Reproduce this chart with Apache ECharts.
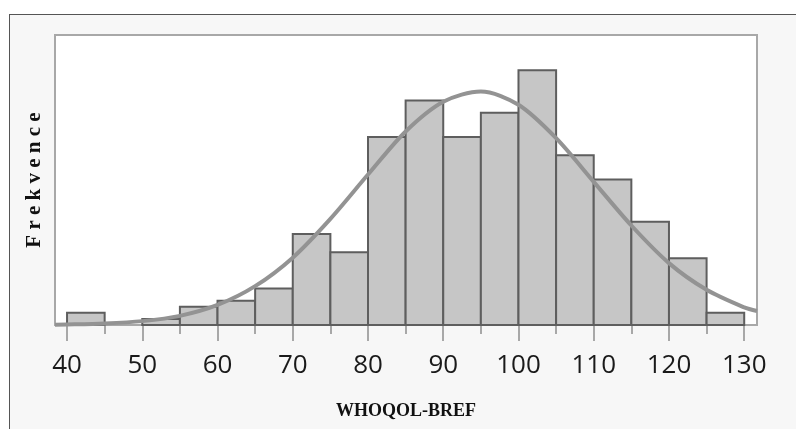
<!DOCTYPE html>
<html>
<head>
<meta charset="utf-8">
<script src="https://cdn.jsdelivr.net/npm/echarts@6/dist/echarts.min.js"></script>
<style>
  body { margin: 0; background: #ffffff; }
  #wrap { position: relative; width: 796px; height: 429px; }
  #frame { position: absolute; left: 9px; top: 14px; right: 0; bottom: 0;
           background: #f7f7f7; border-left: 1px solid #555; border-top: 1px solid #555; }
  #main { position: absolute; left: 0; top: 0; width: 796px; height: 429px; }
</style>
</head>
<body>
<div id="wrap">
  <div id="frame"></div>
  <div id="main"></div>
</div>
<script>
// histogram bins (width 5) and counts
var binStart = [40, 45, 50, 55, 60, 65, 70, 75, 80, 85, 90, 95, 100, 105, 110, 115, 120, 125]
var binWidth = 5
var counts = [2, 0, 1, 3, 4, 6, 15, 12, 31, 37, 31, 35, 42, 28, 24, 17, 11, 2]
// normal curve
var curveX = [38.4, 40, 45, 50, 55, 60, 65, 70, 75, 80, 85, 90, 95, 100, 105, 110, 115, 120, 125, 130, 131.7]
var curveY = [0.06, 0.08, 0.25, 0.64, 1.5, 3.3, 6.4, 11.1, 17.5, 24.8, 31.9, 36.8, 38.5, 36.3, 30.8, 23.6, 16.4, 10.2, 5.8, 2.9, 2.3]
// tick labels
var majorTicks = [40, 50, 60, 70, 80, 90, 100, 110, 120, 130]
var minorTicks = [45, 55, 65, 75, 85, 95, 105, 115, 125]

var xMin = 38.4
var xMax = 131.7

var barData = []
for (var i = 0; i < binStart.length; i++) {
    barData.push([binStart[i], binStart[i] + binWidth, counts[i]])
}
var lineData = []
for (var j = 0; j < curveX.length; j++) {
    lineData.push([curveX[j], curveY[j]])
}

var myChart = echarts.init(document.getElementById('main'))

var tickColor = '#a8a8a8'

var option = {
    animation: false,
    backgroundColor: 'transparent',
    grid: {
        left: 55,
        right: 39,
        top: 35,
        bottom: 104,
        show: true,
        backgroundColor: '#ffffff',
        borderColor: '#a8a8a8',
        borderWidth: 2
    },
    xAxis: [
        {
            type: 'value',
            min: xMin,
            max: xMax,
            position: 'bottom',
            axisLine: { show: false },
            splitLine: { show: false },
            axisTick: {
                show: true,
                customValues: majorTicks,
                length: 16,
                lineStyle: { color: tickColor, width: 2 }
            },
            axisLabel: {
                customValues: majorTicks,
                margin: 28,
                color: '#1a1a1a',
                fontSize: 26,
                fontFamily: 'Open Sans'
            },
            name: 'WHOQOL-BREF',
            nameLocation: 'middle',
            nameGap: 77,
            nameTextStyle: {
                fontFamily: 'Liberation Serif',
                fontWeight: 'bold',
                fontSize: 18,
                color: '#111'
            }
        },
        {
            type: 'value',
            min: xMin,
            max: xMax,
            position: 'bottom',
            axisLine: { show: false },
            splitLine: { show: false },
            axisTick: {
                show: true,
                customValues: minorTicks,
                length: 9,
                lineStyle: { color: tickColor, width: 2 }
            },
            axisLabel: { show: false }
        }
    ],
    yAxis: {
        type: 'value',
        min: 0,
        max: 47.8,
        axisLine: { show: false },
        axisTick: { show: false },
        axisLabel: { show: false },
        splitLine: { show: false },
        name: 'F r e k v e n c e',
        nameLocation: 'middle',
        nameRotate: 90,
        nameGap: 10,
        nameTextStyle: {
            fontFamily: 'Liberation Serif',
            fontWeight: 'bold',
            fontSize: 21,
            color: '#111'
        }
    },
    series: [
        {
            type: 'custom',
            xAxisIndex: 0,
            data: barData,
            renderItem: function (params, api) {
                var c = api.value(2)
                if (!c) return null
                var p0 = api.coord([api.value(0), c])
                var p1 = api.coord([api.value(1), 0])
                return {
                    type: 'rect',
                    shape: { x: p0[0], y: p0[1], width: p1[0] - p0[0], height: p1[1] - p0[1] },
                    style: { fill: '#c6c6c6', stroke: '#5e5e5e', lineWidth: 2 }
                }
            }
        },
        {
            type: 'line',
            xAxisIndex: 0,
            data: lineData,
            smooth: 0.3,
            showSymbol: false,
            lineStyle: { color: '#939393', width: 4 }
        }
    ]
}
myChart.setOption(option)
</script>
</body>
</html>
